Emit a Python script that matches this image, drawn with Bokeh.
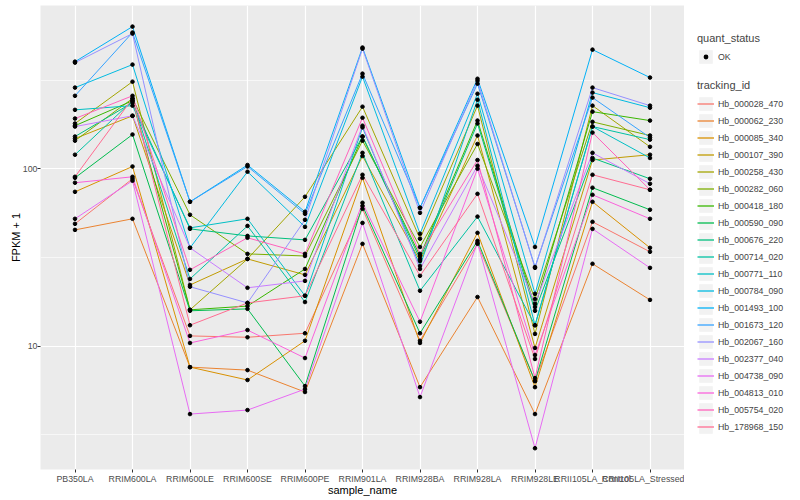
from bokeh.plotting import figure
from bokeh.layouts import row
from bokeh.models import (ColumnDataSource, FactorRange, Range1d, FixedTicker,
                          PrintfTickFormatter, Legend, LegendItem)
from bokeh.embed import file_html
from bokeh.resources import INLINE

samples = ["PB350LA", "RRIM600LA", "RRIM600LE", "RRIM600SE", "RRIM600PE",
           "RRIM901LA", "RRIM928BA", "RRIM928LA", "RRIM928LE",
           "RRII105LA_Control", "RRII105LA_Stressed"]

tracking_ids = ["Hb_000028_470", "Hb_000062_230", "Hb_000085_340", "Hb_000107_390",
                "Hb_000258_430", "Hb_000282_060", "Hb_000418_180", "Hb_000590_090",
                "Hb_000676_220", "Hb_000714_020", "Hb_000771_110", "Hb_000784_090",
                "Hb_001493_100", "Hb_001673_120", "Hb_002067_160", "Hb_002377_040",
                "Hb_004738_090", "Hb_004813_010", "Hb_005754_020", "Hb_178968_150"]

# FPKM + 1 per sample (order of `samples`)
hb_000028_470 = [48.9, 87.8, 11.4, 11.2, 11.8, 59.4, 10.7, 37.7, 6.34, 50.2, 34.0]
hb_000062_230 = [45.2, 52.2, 7.60, 7.31, 5.50, 37.7, 5.86, 18.9, 4.13, 29.1, 18.2]
hb_000085_340 = [74.1, 103, 7.60, 6.43, 10.7, 88.9, 10.4, 43.5, 5.86, 65.1, 35.8]
hb_000107_390 = [148, 199, 22.1, 31.0, 25.2, 118, 30.2, 154, 9.75, 112, 120]
hb_000258_430 = [180, 310, 16.0, 31.0, 69.5, 224, 40.3, 227, 11.7, 227, 133]
hb_000282_060 = [144, 249, 55.0, 33.1, 32.2, 144, 36.2, 138, 18.4, 184, 154]
hb_000418_180 = [175, 242, 16.0, 16.8, 27.2, 152, 32.2, 187, 16.6, 210, 187]
hb_000590_090 = [88.9, 156, 15.8, 16.2, 5.94, 61.8, 11.8, 39.2, 6.34, 78.2, 58.7]
hb_000676_220 = [152, 236, 45.8, 41.8, 39.7, 152, 31.0, 180, 15.8, 115, 87.8]
hb_000714_020 = [120, 242, 23.9, 47.6, 17.7, 123, 20.5, 53.7, 13.1, 173, 146]
hb_000771_110 = [215, 227, 46.4, 52.2, 19.2, 171, 28.3, 245, 13.1, 173, 115]
hb_000784_090 = [287, 387, 35.8, 96.2, 47.0, 331, 43.0, 265, 19.7, 269, 221]
hb_001493_100 = [402, 634, 65.1, 105, 57.2, 483, 60.2, 322, 36.2, 470, 327]
hb_001673_120 = [258, 587, 65.1, 103, 55.7, 344, 60.2, 302, 27.9, 252, 150]
hb_002067_160 = [397, 579, 21.6, 17.5, 51.5, 476, 56.4, 314, 27.6, 287, 227]
hb_002377_040 = [173, 199, 35.8, 21.3, 23.3, 175, 27.2, 104, 17.3, 123, 82.3]
hb_004738_090 = [52.2, 85.6, 4.13, 4.35, 5.71, 49.5, 5.15, 38.2, 2.65, 45.8, 27.6]
hb_004813_010 = [83.4, 90.1, 10.4, 12.3, 8.55, 64.3, 13.7, 100, 8.90, 71.3, 52.2]
hb_005754_020 = [192, 258, 26.9, 40.8, 33.1, 194, 33.1, 112, 6.59, 160, 76.1]
hb_178968_150 = [90.1, 249, 13.1, 17.5, 19.2, 92.5, 24.9, 72.2, 8.45, 92.5, 76.1]

series = [hb_000028_470, hb_000062_230, hb_000085_340, hb_000107_390, hb_000258_430,
          hb_000282_060, hb_000418_180, hb_000590_090, hb_000676_220, hb_000714_020,
          hb_000771_110, hb_000784_090, hb_001493_100, hb_001673_120, hb_002067_160,
          hb_002377_040, hb_004738_090, hb_004813_010, hb_005754_020, hb_178968_150]

colors = ["#F8766D", "#EA8331", "#D89000", "#C09B00", "#A3A500", "#7CAE00", "#39B600",
          "#00BB4E", "#00BF7D", "#00C1A3", "#00BFC4", "#00BAE0", "#00B0F6", "#35A2FF",
          "#9590FF", "#C77CFF", "#E76BF3", "#FA62DB", "#FF62BC", "#FF6C91"]

quant_status = ["OK"]
y_ticks = [10, 100]
y_minor = [3.1623, 31.623, 316.23]

FONT = "Liberation Sans"

p = figure(width=684, height=500,
           x_range=FactorRange(factors=samples, range_padding=0.1,
                               range_padding_units="absolute"),
           y_range=Range1d(2.01, 834), y_axis_type="log",
           output_backend="svg", toolbar_location=None,
           min_border_top=5, min_border_left=40, min_border_right=0,
           min_border_bottom=31)

p.background_fill_color = "#EBEBEB"
p.border_fill_color = "white"
p.outline_line_color = None

# lines
for vals, c in zip(series, colors):
    p.line(x=samples, y=vals, line_color=c, line_width=1)

# points
px, py = [], []
for vals in series:
    px.extend(samples)
    py.extend(vals)
p.scatter(x="x", y="y", source=ColumnDataSource(dict(x=px, y=py)),
          size=3.6, color="black")

# axes
p.xaxis.axis_label = "sample_name"
p.yaxis.axis_label = "FPKM + 1"
p.yaxis.ticker = FixedTicker(ticks=y_ticks, minor_ticks=y_minor)
p.yaxis.formatter = PrintfTickFormatter(format="%d")
for ax in p.axis:
    ax.axis_line_color = None
    ax.major_tick_line_color = "#333333"
    ax.major_tick_out = 3
    ax.major_tick_in = 0
    ax.minor_tick_out = 0
    ax.minor_tick_in = 0
    ax.major_label_text_color = "#4D4D4D"
    ax.major_label_text_font = FONT
    ax.major_label_text_font_size = "8.8px"
    ax.axis_label_text_font = FONT
    ax.axis_label_text_font_size = "11px"
    ax.axis_label_text_font_style = "normal"
    ax.axis_label_text_color = "black"
p.yaxis.major_label_standoff = 0
p.yaxis.axis_label_standoff = -2
p.xaxis.major_label_standoff = 1
p.xaxis.axis_label_standoff = -3

p.xgrid.grid_line_color = "white"
p.xgrid.grid_line_width = 1.2
p.ygrid.grid_line_color = "white"
p.ygrid.grid_line_width = 1.2
p.ygrid.minor_grid_line_color = "white"
p.ygrid.minor_grid_line_width = 0.6

# legend panel
lf = figure(width=116, height=500, x_range=Range1d(0, 1), y_range=Range1d(0, 1),
            toolbar_location=None, output_backend="svg", min_border=0)
lf.axis.visible = False
lf.grid.visible = False
lf.outline_line_color = None
lf.background_fill_color = "white"
lf.border_fill_color = "white"

# legend-key renderers (their points lie outside the panel's ranges)
off = dict(x=[5, 6], y=[5, 6])
key_bg = lf.rect(x=off["x"], y=off["y"], width=1, height=1,
                 fill_color="#F2F2F2", line_color=None)
ok_pt = lf.scatter(x=off["x"], y=off["y"], size=3.6, fill_color="black",
                   line_color="#F2F2F2", line_width=2)
items2 = []
for tid, c in zip(tracking_ids, colors):
    ln = lf.line(x=off["x"], y=off["y"], line_color=c, line_width=1.3)
    items2.append(LegendItem(label=tid, renderers=[key_bg, ln]))

leg1 = Legend(items=[LegendItem(label=quant_status[0], renderers=[key_bg, ok_pt])],
              title="quant_status", location=(13, 404))
leg2 = Legend(items=items2, title="tracking_id", location=(13, 34))
for leg in (leg1, leg2):
    leg.glyph_width = 17
    leg.glyph_height = 17
    leg.label_height = 17
    leg.spacing = 0
    leg.padding = 0
    leg.margin = 0
    leg.label_standoff = 4
    leg.label_text_font = FONT
    leg.label_text_font_size = "8.8px"
    leg.title_text_font = FONT
    leg.title_text_font_size = "11px"
    leg.title_text_font_style = "normal"
    leg.title_standoff = 4
    leg.background_fill_alpha = 0
    leg.border_line_alpha = 0
    lf.add_layout(leg)

open("out.html", "w").write(file_html(row(p, lf), INLINE))
